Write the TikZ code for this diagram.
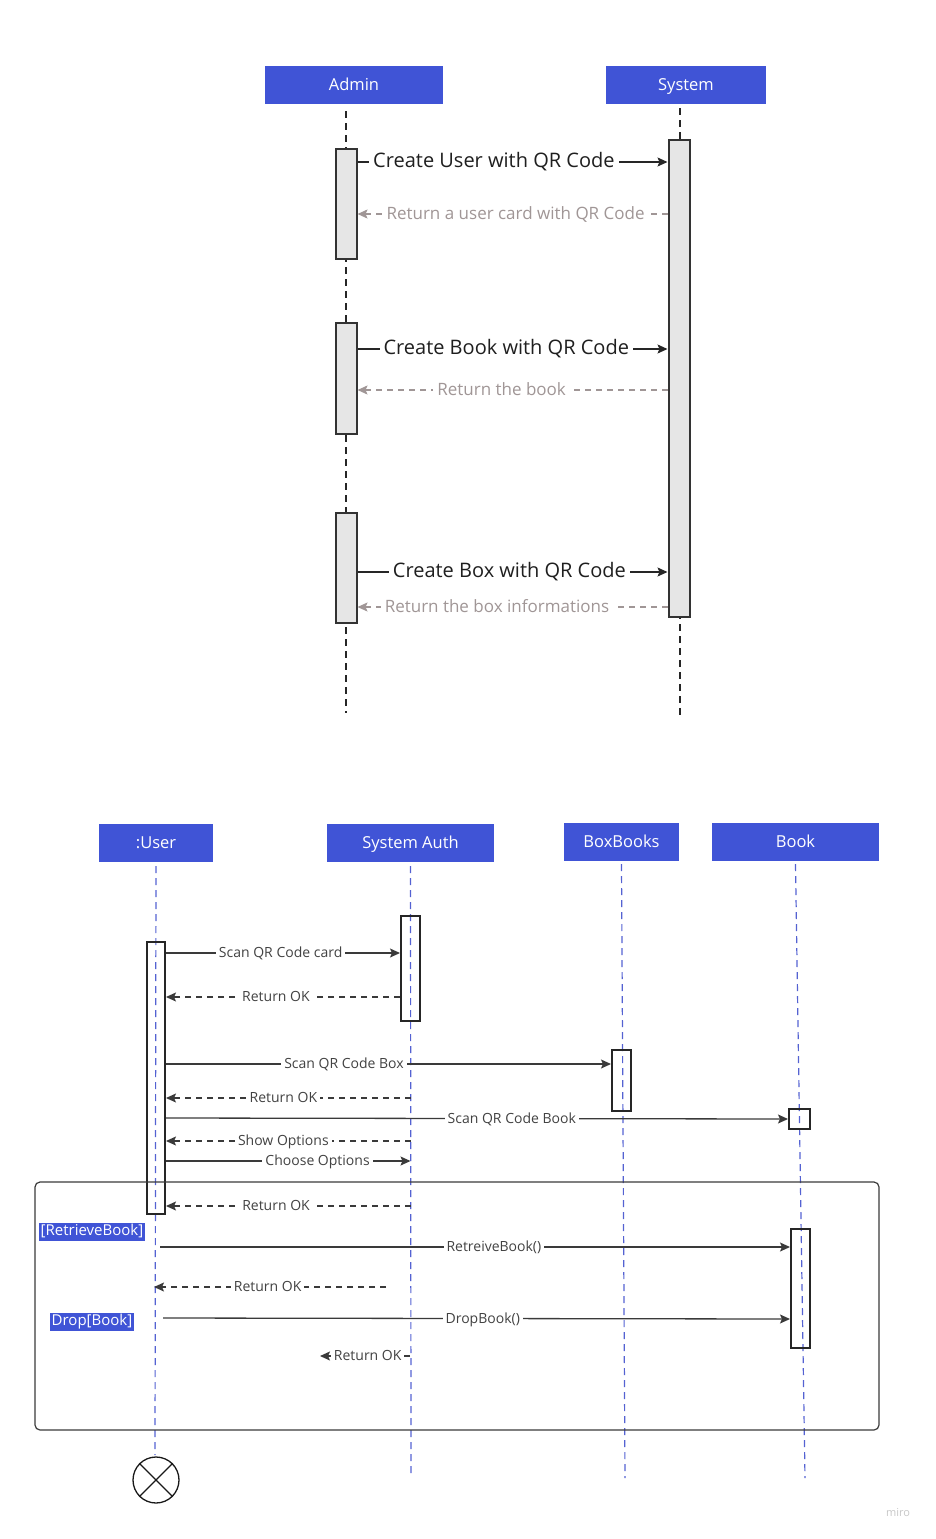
\documentclass[tikz,border=0pt]{standalone}
\usepackage{fontspec}
\setmainfont{Open Sans}
\usepackage{tikz}
\usetikzlibrary{arrows.meta, positioning, calc}

\definecolor{hdrblue}{RGB}{64,84,214}
\definecolor{lifeblue}{RGB}{84,98,210}
\definecolor{retgray}{RGB}{160,150,150}
\definecolor{inkgray}{RGB}{58,58,58}
\definecolor{txtgray}{RGB}{66,66,66}
\definecolor{actgray}{RGB}{230,230,230}

\begin{document}
\begin{tikzpicture}[
  x=1pt, y=-1pt,
  hdr/.style={
    fill=hdrblue, text=white, inner sep=0pt, minimum height=38,
    text height=11.5pt, text depth=0pt,
    font=\fontsize{16.5}{18}\selectfont
  },
  lifeT/.style={draw=black!85, line width=1.2, dash pattern=on 7pt off 5pt},
  lifeB/.style={draw=lifeblue, line width=1.2, dash pattern=on 7pt off 5pt},
  actT/.style={
    draw=black!80, line width=2, fill=actgray, inner sep=0pt,
    minimum width=21, anchor=north
  },
  actB/.style={
    draw=black!85, line width=2, inner sep=0pt, minimum width=19, anchor=north
  },
  callT/.style={
    -{Stealth[length=10pt, width=9pt, inset=2pt]},
    draw=black!85, line width=1.3
  },
  retT/.style={
    -{Stealth[length=10pt, width=9pt, inset=2pt]},
    draw=retgray, line width=1.3, dash pattern=on 6pt off 5pt
  },
  callB/.style={
    -{Stealth[length=10pt, width=9pt, inset=2pt]},
    draw=inkgray, line width=1.3
  },
  retB/.style={
    -{Stealth[length=10pt, width=9pt, inset=2pt]},
    draw=inkgray, line width=1.3, dash pattern=on 6pt off 5pt
  },
  lblT/.style={
    fill=white, inner xsep=4pt, inner ysep=1pt, text=black!88,
    text height=14.5pt, text depth=3.5pt,
    font=\fontsize{20}{22}\selectfont
  },
  lblR/.style={
    fill=white, inner xsep=4pt, inner ysep=1pt, text=retgray,
    text height=12pt, text depth=2pt,
    font=\fontsize{17}{19}\selectfont
  },
  lblB/.style={
    fill=white, inner xsep=3pt, inner ysep=2pt, text=txtgray,
    text height=10pt, text depth=0.5pt,
    font=\fontsize{14}{16}\selectfont
  },
  guard/.style={
    fill=hdrblue, text=white, inner xsep=1.5pt, inner ysep=1.5pt,
    text height=11pt, text depth=3.5pt,
    font=\fontsize{15}{17}\selectfont
  }
]
\useasboundingbox (0,0) rectangle (935,1539);

% ----- Diagramme 1 : Admin / System -----
\node[hdr, minimum width=178] (admin)  at (354,85) {Admin};
\node[hdr, minimum width=160] (system) at (686,85) {System};

\coordinate (adminEnd)  at (346,713);
\coordinate (systemEnd) at (680,718);
\draw[lifeT] (admin.south -| adminEnd) ++(0,7) -- (adminEnd);
\draw[lifeT] (system.south -| systemEnd) ++(0,4) -- (systemEnd);

\node[actT, minimum height=110] (adm1) at (346,148) {};
\node[actT, minimum height=111] (adm2) at (346,322) {};
\node[actT, minimum height=110] (adm3) at (346,512) {};
\node[actT, minimum height=477] (sys)  at (679,139) {};

\coordinate (rUser)    at (0,162);
\coordinate (rUserRet) at (0,214);
\coordinate (rBook)    at (0,349);
\coordinate (rBookRet) at (0,390);
\coordinate (rBox)     at (0,572);
\coordinate (rBoxRet)  at (0,607);

\draw[callT] (adm1.east |- rUser) -- node[lblT, pos=.44] {Create User with QR Code} (sys.west |- rUser);
\draw[retT] (sys.west |- rUserRet) -- node[lblR, pos=.49] {Return a user card with QR Code} (adm1.east |- rUserRet);
\draw[callT] (adm2.east |- rBook) -- node[lblT, pos=.48] {Create Book with QR Code} (sys.west |- rBook);
\draw[retT] (sys.west |- rBookRet) -- node[lblR, pos=.535] {Return the book} (adm2.east |- rBookRet);
\draw[callT] (adm3.east |- rBox) -- node[lblT, pos=.49] {Create Box with QR Code} (sys.west |- rBox);
\draw[retT] (sys.west |- rBoxRet) -- node[lblR, pos=.55] {Return the box informations} (adm3.east |- rBoxRet);

% ----- Diagramme 2 : User / System Auth / BoxBooks / Book -----
\node[hdr, minimum width=114] (user)     at (156,843) {:User};
\node[hdr, minimum width=167] (auth)     at (410.5,843) {System Auth};
\node[hdr, minimum width=115] (boxbooks) at (621.5,842) {BoxBooks};
\node[hdr, minimum width=167] (book)     at (795.5,842) {Book};

\coordinate (userEnd)     at (155,1455);
\coordinate (authEnd)     at (411,1478);
\coordinate (boxbooksEnd) at (625,1478);
\coordinate (bookEnd)     at (805,1478);
\draw[lifeB] (user.south) ++(0,4) -- (userEnd);
\draw[lifeB] (auth.south) ++(0,4) -- (authEnd);
\draw[lifeB] (boxbooks.south) ++(0,3) -- (boxbooksEnd);
\draw[lifeB] (book.south) ++(0,3) -- (bookEnd);

\node[actB, minimum height=272, minimum width=18] (uact)  at (156,941) {};
\node[actB, minimum height=105] (aact)  at (410.5,915) {};
\node[actB, minimum height=61]  (bbact) at (621.5,1049) {};
\node[actB, minimum height=20, minimum width=21] (bk1) at (799.5,1108) {};
\node[actB, minimum height=119] (bk2)   at (800.5,1228) {};

% cadre alt
\node[draw=inkgray, line width=1.2, rounded corners=5pt, inner sep=0pt,
      minimum width=844, minimum height=248] (alt) at (457,1306) {};
\node[guard] (gRetrieve) at (92,1232) {[RetrieveBook]};
\node[guard] (gDrop)     at (92,1322) {Drop[Book]};

\coordinate (rCard)     at (0,953);
\coordinate (rCardRet)  at (0,997);
\coordinate (rBoxScan)  at (0,1064);
\coordinate (rBoxRet2)  at (0,1098);
\coordinate (rBookScan) at (0,1118);
\coordinate (rShow)     at (0,1141);
\coordinate (rChoose)   at (0,1161);
\coordinate (rOk)       at (0,1206);
\coordinate (rRetr)     at (0,1247);
\coordinate (rDrop)     at (0,1319);

\coordinate (retrStart) at (160,1247);
\coordinate (okFrom)    at (386,1287);
\coordinate (okTo)      at (154,1287);
\coordinate (dropStart) at (163,1318);
\coordinate (okLast)    at (320,1356);
\coordinate (okLastSrc) at (410,1356);

\draw[callB] (uact.east |- rCard) -- node[lblB, pos=.49] {Scan QR Code card} (aact.west |- rCard);
\draw[retB] (aact.west |- rCardRet) -- node[lblB, pos=.53] {Return OK} (uact.east |- rCardRet);
\draw[callB] (uact.east |- rBoxScan) -- node[lblB, pos=.40] {Scan QR Code Box} (bbact.west |- rBoxScan);
\draw[retB] (aact.center |- rBoxRet2) -- node[lblB, pos=.52] {Return OK} (uact.east |- rBoxRet2);
\draw[callB] (uact.east |- rBookScan) -- node[lblB, pos=.556] {Scan QR Code Book} (bk1.west);
\draw[retB] (aact.center |- rShow) -- node[lblB, pos=.52] {Show Options} (uact.east |- rShow);
\draw[callB] (uact.east |- rChoose) -- node[lblB, pos=.62] {Choose Options} (aact.center |- rChoose);
\draw[retB] (aact.center |- rOk) -- node[lblB, pos=.55] {Return OK} (uact.east |- rOk);
\draw[callB] (retrStart) -- node[lblB, pos=.53] {RetreiveBook()} (bk2.west |- rRetr);
\draw[retB] (okFrom) -- node[lblB, pos=.51] {Return OK} (okTo);
\draw[callB] (dropStart) -- node[lblB, pos=.51] {DropBook()} (bk2.west |- rDrop);
\draw[retB] (okLastSrc) -- node[lblB, pos=.47] {Return OK} (okLast);

% fin de vie
\node[circle, draw=black!90, line width=1.3, minimum size=46, inner sep=0pt] (stop) at (156,1480) {};
\draw[black!90, line width=1.3] (stop.north west) -- (stop.south east);
\draw[black!90, line width=1.3] (stop.north east) -- (stop.south west);

\node[text=black!22, font=\fontsize{11}{13}\selectfont] (miro) at (898,1512) {miro};

\end{tikzpicture}
\end{document}
